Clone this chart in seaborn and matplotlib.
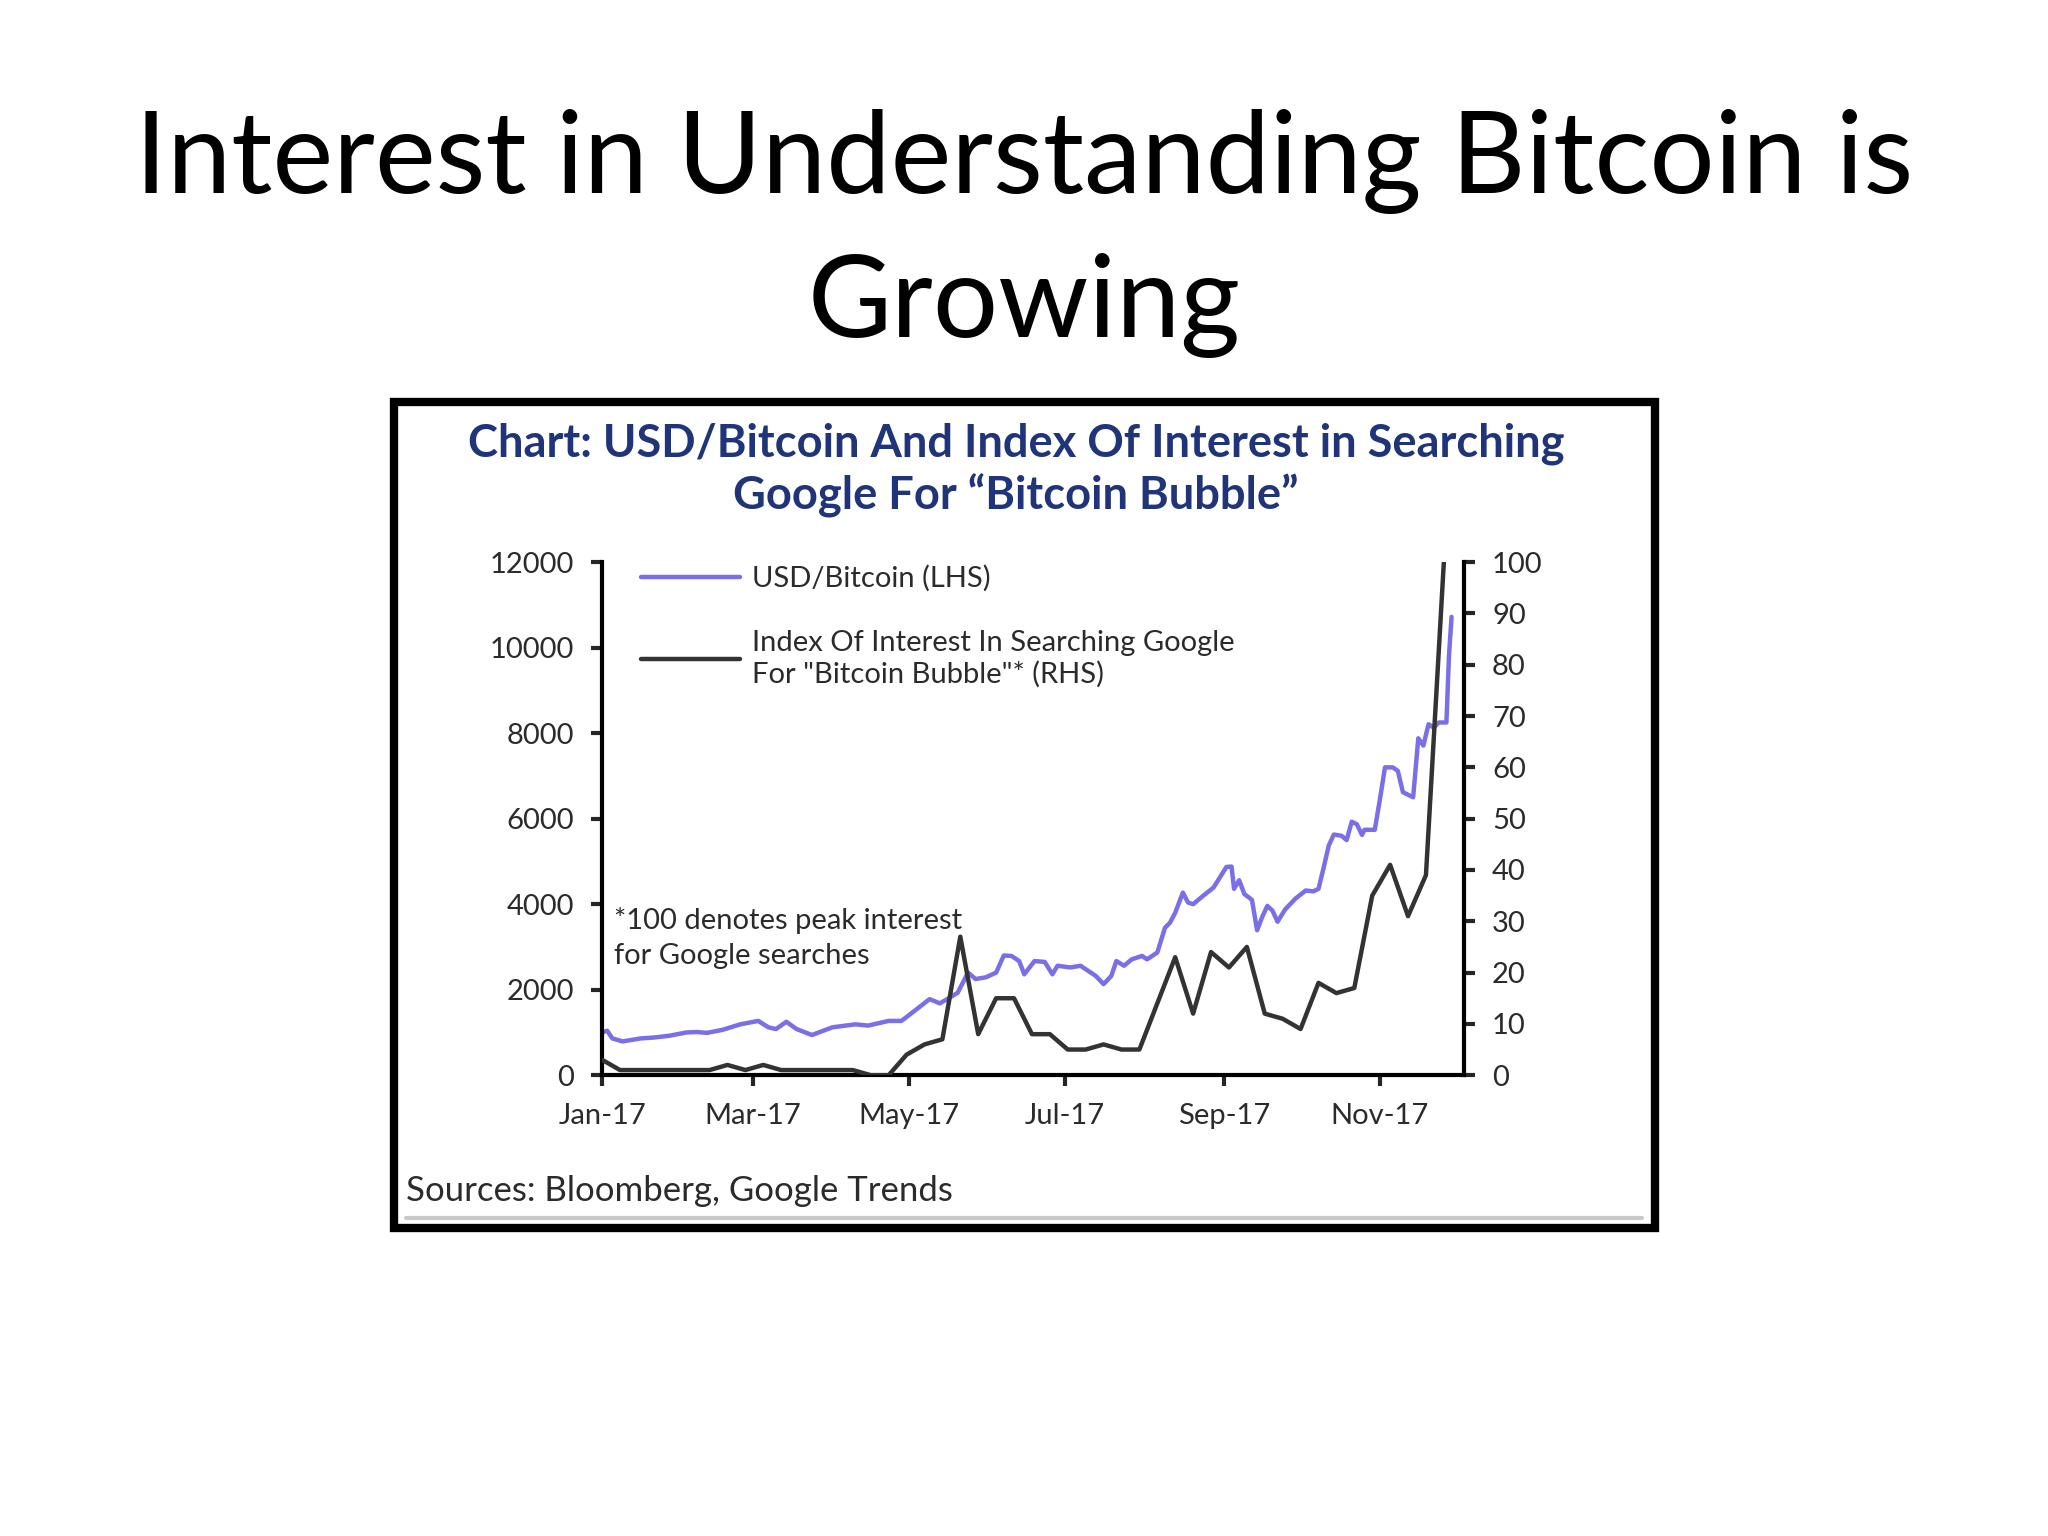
import numpy as np
import pandas as pd
import matplotlib
matplotlib.use("Agg")
import matplotlib.pyplot as plt
import matplotlib.dates as mdates
from matplotlib.patches import Rectangle
from matplotlib.lines import Line2D
import seaborn as sns

# USD/Bitcoin (LHS) - days since 2017-01-01 and price
btc_day = [0, 2, 4, 8, 15, 20, 26, 33, 37, 41, 47, 54, 61, 65, 68, 72, 76, 82, 90,
           99, 104, 112, 117, 122, 128, 132, 136, 139, 143, 146, 150, 154, 157, 160,
           163, 165, 169, 173, 176, 178, 183, 187, 193, 196, 199, 201, 204, 207, 211,
           213, 217, 220, 222, 224, 227, 229, 231, 235, 239, 244, 246, 247, 249, 251,
           254, 256, 258, 260, 262, 264, 267, 271, 275, 278, 280, 282, 284, 286, 289,
           291, 293, 295, 297, 298, 302, 304, 306, 309, 311, 313, 317, 319, 321, 323,
           325, 327, 330, 331, 332]
btc_price = [1000, 1040, 860, 790, 860, 880, 920, 1000, 1010, 990, 1060, 1190, 1270,
             1120, 1080, 1250, 1080, 940, 1120, 1190, 1160, 1270, 1270, 1500, 1780,
             1680, 1820, 1930, 2400, 2250, 2290, 2400, 2800, 2790, 2670, 2360, 2670,
             2650, 2360, 2560, 2520, 2560, 2320, 2130, 2320, 2670, 2560, 2710, 2790,
             2710, 2870, 3450, 3570, 3800, 4270, 4040, 4000, 4200, 4390, 4870, 4880,
             4360, 4560, 4240, 4100, 3390, 3700, 3960, 3850, 3590, 3880, 4130, 4320,
             4300, 4360, 4850, 5370, 5630, 5600, 5500, 5930, 5870, 5620, 5740, 5740,
             6450, 7200, 7200, 7120, 6620, 6500, 7880, 7710, 8210, 8130, 8250, 8250,
             9800, 10720]

# Weekly Google Trends index for "Bitcoin Bubble" (RHS), weeks starting 2017-01-01
search_index = [3, 1, 1, 1, 1, 1, 1, 2, 1, 2, 1, 1, 1, 1, 1, 0, 0, 4, 6, 7, 27, 8,
                15, 15, 8, 8, 5, 5, 6, 5, 5, 14, 23, 12, 24, 21, 25, 12, 11, 9, 18,
                16, 17, 35, 41, 31, 39, 100]

left_ticks = [0, 2000, 4000, 6000, 8000, 10000, 12000]
right_ticks = [0, 10, 20, 30, 40, 50, 60, 70, 80, 90, 100]

start = pd.Timestamp("2017-01-01")
btc = pd.DataFrame({"date": start + pd.to_timedelta(btc_day, unit="D"), "price": btc_price})
gt = pd.DataFrame({"date": pd.date_range(start, periods=len(search_index), freq="7D"),
                   "index": search_index})

sns.set_style("ticks")
plt.rcParams["font.family"] = ["Lato", "DejaVu Sans"]

blue = "#7a6fe6"
dark = "#333333"
txt = "#2b2b2b"

fig = plt.figure(figsize=(10.24, 7.68), dpi=200)
fig.patch.set_facecolor("white")

ax = fig.add_axes([0.294, 0.300, 0.421, 0.334])
ax2 = ax.twinx()

sns.lineplot(data=btc, x="date", y="price", ax=ax, color=blue, lw=1.6,
             label="USD/Bitcoin (LHS)", legend=False)
sns.lineplot(data=gt, x="date", y="index", ax=ax2, color=dark, lw=1.6,
             label='Index Of Interest In Searching Google\nFor "Bitcoin Bubble"* (RHS)',
             legend=False)

ax.set_xlim(start, start + pd.Timedelta(days=337))
ax.set_ylim(0, 12000)
ax2.set_ylim(0, 100)
ax.set_yticks(left_ticks)
ax2.set_yticks(right_ticks)
ax.xaxis.set_major_locator(mdates.MonthLocator(bymonth=[1, 3, 5, 7, 9, 11]))
ax.xaxis.set_major_formatter(mdates.DateFormatter("%b-%y"))
ax.set_xlabel("")
ax.set_ylabel("")
ax2.set_ylabel("")

for a in (ax, ax2):
    a.spines["top"].set_visible(False)
    for s in a.spines.values():
        s.set_linewidth(1.5)
        s.set_color("black")
    a.tick_params(length=4, width=1.5, labelsize=10.5, labelcolor=txt, pad=6)
ax.spines["right"].set_visible(False)
ax2.spines["left"].set_visible(False)
ax2.spines["bottom"].set_visible(False)
ax2.spines["right"].set_visible(True)

h1, l1 = ax.get_legend_handles_labels()
h2, l2 = ax2.get_legend_handles_labels()
leg = ax.legend(h1 + h2, l1 + l2, loc="upper left", bbox_to_anchor=(0.015, 1.045),
                frameon=False, handlelength=3.4, handletextpad=0.4, labelspacing=1.3,
                fontsize=10.5)
for t in leg.get_texts():
    t.set_color(txt)

ax.text(0.014, 0.267, "*100 denotes peak interest\nfor Google searches",
        transform=ax.transAxes, fontsize=10.5, color=txt, va="center", ha="left",
        linespacing=1.45)

# slide title
fig.text(0.5, 0.848, "Interest in Understanding Bitcoin is\nGrowing", ha="center",
         va="center", fontsize=41.4, color="black", linespacing=1.46)

# chart title
fig.text(0.496, 0.694, "Chart: USD/Bitcoin And Index Of Interest in Searching\n"
         "Google For \u201cBitcoin Bubble\u201d", ha="center", va="center",
         fontsize=16.3, fontweight="bold", color="#1f3479", linespacing=1.25)

fig.text(0.198, 0.2245, "Sources: Bloomberg, Google Trends", ha="left", va="center",
         fontsize=12.5, color=txt)

# framed chart box
fig.add_artist(Line2D([0.198, 0.802], [0.207, 0.207], color="#c8c8c8", lw=1.5,
                      transform=fig.transFigure))
fig.add_artist(Rectangle((0.1926, 0.2007), 0.6154, 0.5373, transform=fig.transFigure,
                         fill=False, edgecolor="black", lw=3))

fig.savefig("out.png", dpi=200)
